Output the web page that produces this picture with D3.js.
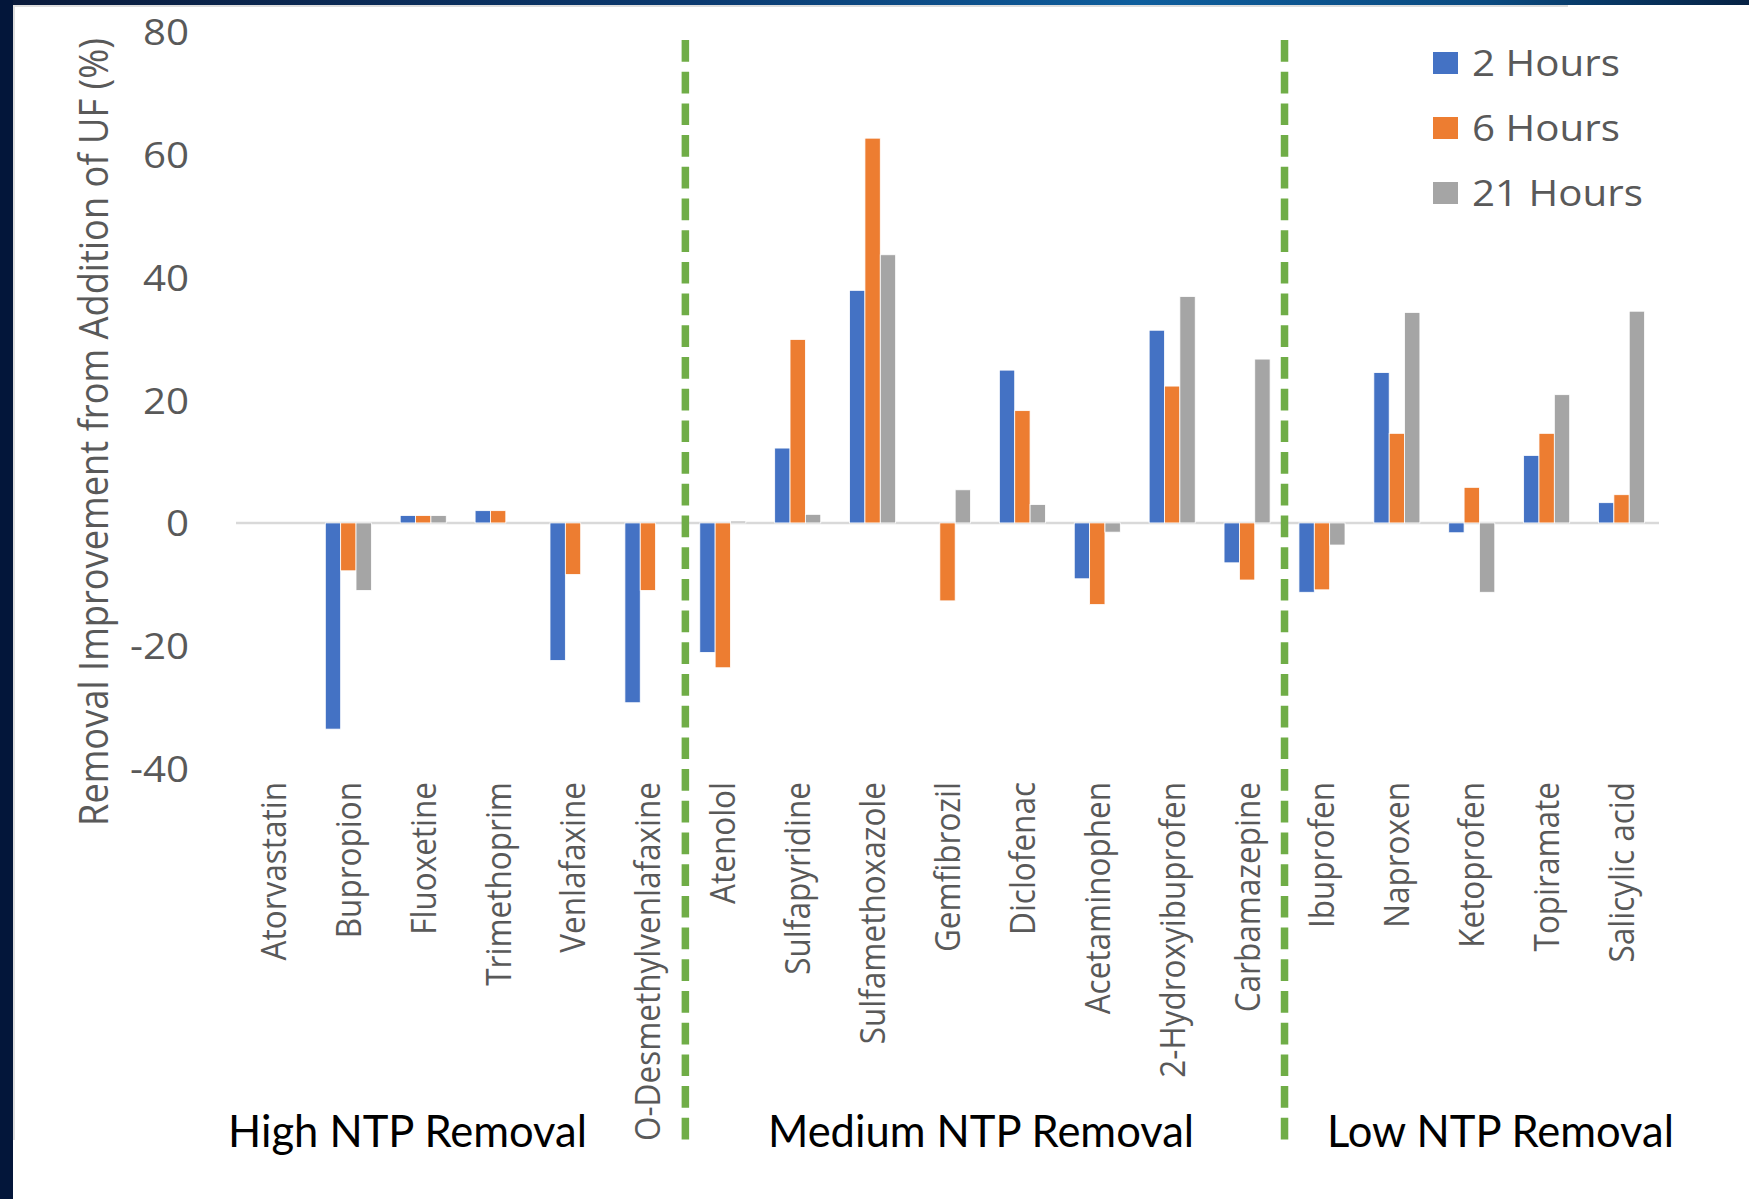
<!DOCTYPE html>
<html>
<head>
<meta charset="utf-8">
<script src="https://cdn.jsdelivr.net/npm/d3@7"></script>
<style>
  html, body { margin: 0; padding: 0; background: #ffffff; }
  svg { display: block; }
</style>
</head>
<body>
<div id="chart"></div>
<script>
// ---------------- data ----------------
const categories = [
  "Atorvastatin", "Bupropion", "Fluoxetine", "Trimethoprim", "Venlafaxine", "O-Desmethylvenlafaxine",
  "Atenolol", "Sulfapyridine", "Sulfamethoxazole", "Gemfibrozil", "Diclofenac", "Acetaminophen",
  "2-Hydroxyibuprofen", "Carbamazepine",
  "Ibuprofen", "Naproxen", "Ketoprofen", "Topiramate", "Salicylic acid"
];
const seriesNames = ["2 Hours", "6 Hours", "21 Hours"];
const hours2  = [0, -33.6, 1.2, 2.0, -22.4, -29.3, -21.1, 12.2, 37.9, 0, 24.9, -9.1, 31.4, -6.5, -11.3, 24.5, -1.6, 11.0, 3.3];
const hours6  = [0, -7.8, 1.2, 2.0, -8.4, -11.0, -23.6, 29.9, 62.7, -12.7, 18.3, -13.3, 22.3, -9.3, -10.9, 14.6, 5.8, 14.6, 4.6];
const hours21 = [0, -11.0, 1.2, 0, 0, 0, 0.3, 1.4, 43.7, 5.4, 3.0, -1.5, 36.9, 26.7, -3.6, 34.3, -11.3, 20.9, 34.5];
const yTicks = [-40, -20, 0, 20, 40, 60, 80];
const yTickLabels = ["-40", "-20", "0", "20", "40", "60", "80"];
const groupNames = ["High NTP Removal", "Medium NTP Removal", "Low NTP Removal"];
const groupSizes = [6, 8, 5];
const yTitle = "Removal Improvement from Addition of UF (%)";

// ---------------- layout ----------------
const W = 1749, H = 1199;
const colors = ["#4472c4", "#ed7d31", "#a5a5a5"];
const textGray = "#595959";
const stretch = 1.12;

const svg = d3.select("#chart").append("svg").attr("width", W).attr("height", H);

// slide decorations
const defs = svg.append("defs");
const grad = defs.append("linearGradient").attr("id", "topbar").attr("x1", "0").attr("x2", "1").attr("y1", "0").attr("y2", "0");
[["0", "#0a1a3a"], ["0.4", "#0b3a70"], ["0.65", "#0e5e9d"], ["0.85", "#0a4a80"], ["1", "#062244"]].forEach(([o, c]) =>
  grad.append("stop").attr("offset", o).attr("stop-color", c));

svg.append("rect").attr("width", W).attr("height", H).attr("fill", "#ffffff");
svg.append("rect").attr("x", 0).attr("y", 0).attr("width", W).attr("height", 5).attr("fill", "url(#topbar)");
svg.append("rect").attr("x", 0).attr("y", 0).attr("width", 13).attr("height", H).attr("fill", "#03163a");
svg.append("rect").attr("x", 13).attr("y", 5).attr("width", 1555).attr("height", 2).attr("fill", "#dedede");
svg.append("rect").attr("x", 13).attr("y", 5).attr("width", 2).attr("height", 1135).attr("fill", "#dedede");

// scales
const x0 = d3.scaleBand().domain(categories).range([236, 1659]).paddingInner(0.385).paddingOuter(0.1925);
const x1 = d3.scaleBand().domain(seriesNames).range([0, x0.bandwidth()]);
const y = d3.scaleLinear().domain([-40, 80]).range([768.4, 32]);

// y axis
const yAxis = svg.append("g").attr("transform", "translate(189,0)")
  .call(d3.axisLeft(y).tickValues(yTicks).tickSize(0).tickPadding(0)
    .tickFormat((d, i) => yTickLabels[i]));
yAxis.select(".domain").remove();
yAxis.selectAll("text")
  .attr("x", 0).attr("dy", "0.36em")
  .attr("transform", `scale(${stretch},1)`)
  .style("font-family", "'Open Sans', sans-serif").style("font-size", "36px").attr("fill", textGray);

// y title
svg.append("text")
  .attr("transform", `translate(108,432) scale(${stretch},1) rotate(-90)`)
  .attr("text-anchor", "middle")
  .style("font-family", "'Open Sans', sans-serif").style("font-size", "36.3px").attr("fill", textGray)
  .text(yTitle);

// zero line
svg.append("line").attr("x1", 236).attr("x2", 1659).attr("y1", y(0)).attr("y2", y(0))
  .attr("stroke", "#d9d9d9").attr("stroke-width", 2.5);

// bars
const rows = categories.map((c, i) => ({ cat: c, vals: [hours2[i], hours6[i], hours21[i]] }));
const gCat = svg.append("g").selectAll("g").data(rows).join("g")
  .attr("transform", d => `translate(${x0(d.cat)},0)`);
gCat.selectAll("rect").data(d => d.vals.map((v, k) => ({ v, k })).filter(o => o.v !== 0)).join("rect")
  .attr("x", o => x1(seriesNames[o.k]))
  .attr("width", x1.bandwidth())
  .attr("y", o => Math.min(y(o.v), y(0)))
  .attr("height", o => Math.abs(y(o.v) - y(0)))
  .attr("fill", o => colors[o.k])
  .attr("stroke", "#ffffff").attr("stroke-width", 0.8);

// category labels
const xAxis = svg.append("g").attr("transform", "translate(0,782)")
  .call(d3.axisBottom(x0).tickSize(0).tickPadding(0));
xAxis.select(".domain").remove();
xAxis.selectAll("text")
  .attr("x", 0).attr("y", 0).attr("dy", null)
  .attr("text-anchor", "end")
  .attr("dominant-baseline", "middle")
  .attr("transform", `translate(3,0) scale(${stretch},1) rotate(-90)`)
  .style("font-family", "'Open Sans', sans-serif").style("font-size", "31.5px").attr("fill", textGray);

// group dividers
let cum = 0;
const dividerIdx = [];
groupSizes.slice(0, -1).forEach(s => { cum += s; dividerIdx.push(cum); });
svg.append("g").selectAll("line").data(dividerIdx).join("line")
  .attr("x1", i => x0(categories[i]) - x0.step() * x0.paddingInner() / 2)
  .attr("x2", i => x0(categories[i]) - x0.step() * x0.paddingInner() / 2)
  .attr("y1", 40).attr("y2", 1140)
  .attr("stroke", "#70ad47").attr("stroke-width", 7.5).attr("stroke-dasharray", "21.7,10");

// group labels
const groupCenters = [407.5, 981, 1500.5];
svg.append("g").selectAll("text").data(groupNames).join("text")
  .attr("x", (d, i) => groupCenters[i]).attr("y", 1147)
  .attr("text-anchor", "middle")
  .style("font-family", "Lato, sans-serif").style("font-size", "43.5px").attr("fill", "#000000")
  .text(d => d);

// legend
const legend = svg.append("g").selectAll("g").data(seriesNames).join("g")
  .attr("transform", (d, i) => `translate(1433,${63 + i * 65})`);
legend.append("rect").attr("x", 0).attr("y", -11).attr("width", 25).attr("height", 22)
  .attr("fill", (d, i) => colors[i]);
legend.append("text")
  .attr("transform", `translate(39,0) scale(${stretch},1)`)
  .attr("dy", "0.36em")
  .style("font-family", "'Open Sans', sans-serif").style("font-size", "36px").attr("fill", textGray)
  .text(d => d);
</script>
</body>
</html>
